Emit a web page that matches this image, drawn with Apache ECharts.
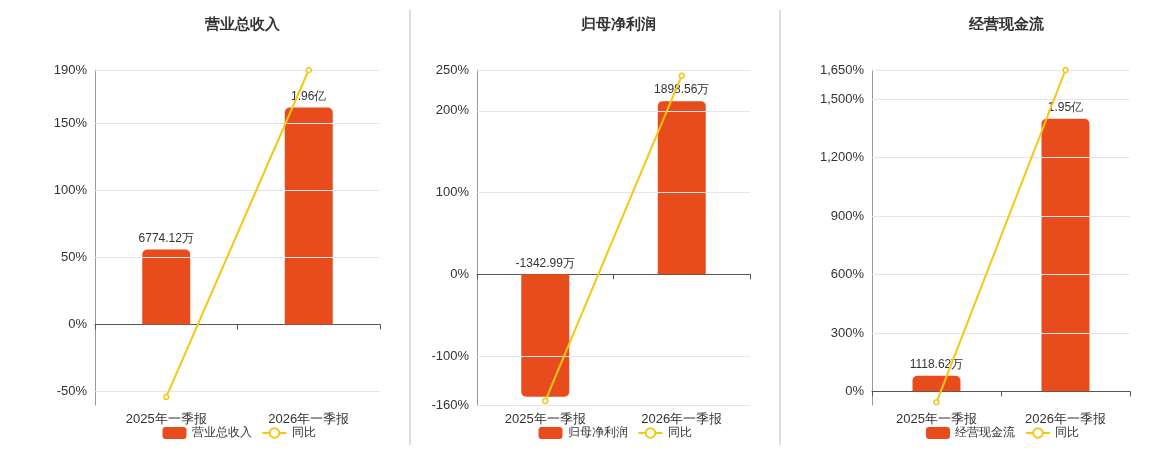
<!DOCTYPE html>
<html>
<head>
<meta charset="utf-8">
<script src="https://cdn.jsdelivr.net/npm/echarts@6/dist/echarts.min.js"></script>
</head>
<body style="margin:0">
<div id="main" style="width:1160px;height:450px;"></div>
<script>
var categories = ['2025年一季报', '2026年一季报'];
var titles = ['营业总收入', '归母净利润', '经营现金流'];
// 柱值单位：万元
var barValues = [[6774.12, 19600], [-1342.99, 1898.56], [1118.62, 19500]];
var barLabels = [['6774.12万', '1.96亿'], ['-1342.99万', '1898.56万'], ['1118.62万', '1.95亿']];
var yoyValues = [[-54, 190], [-155, 243], [-56, 1650]];
var tickLabels = [[-50, 0, 50, 100, 150, 190], [-160, -100, 0, 100, 200, 250], [0, 300, 600, 900, 1200, 1500, 1650]];
var pctRange = [[-60, 190, 10], [-160, 250, 10], [-70, 1650, 10]];
var barScale = [121, 8.96, 13.93]; // 万元 per 1%

var lefts = [95, 477, 872], rights = [780, 410, 30];
var grids = [], xAxes = [], yAxes = [], series = [], legends = [], titleArr = [];
var fmt = function (v) { return v.toLocaleString('en-US') + '%'; };

for (var i = 0; i < 3; i++) {
  grids.push({left: lefts[i], right: rights[i], top: 70, bottom: 45});
  xAxes.push({type: 'category', gridIndex: i, data: categories,
    axisLine: {onZero: true, onZeroAxisIndex: 2 * i, lineStyle: {color: '#555'}},
    axisTick: {show: true, lineStyle: {color: '#555'}}, axisLabel: {show: false}});
  xAxes.push({type: 'category', gridIndex: i, data: categories, position: 'bottom',
    axisLine: {show: false}, axisTick: {show: false},
    axisLabel: {color: '#333', fontSize: 13, margin: 8}});
  var r = pctRange[i], ticks = tickLabels[i];
  yAxes.push({type: 'value', gridIndex: i, min: r[0], max: r[1], interval: r[2],
    axisLine: {show: true, lineStyle: {color: '#999'}}, axisTick: {show: false},
    splitLine: {show: false},
    axisLabel: {color: '#333', fontSize: 13, showMinLabel: true, showMaxLabel: true,
      formatter: (function (t) { return function (v) { return t.indexOf(Math.round(v)) >= 0 ? fmt(Math.round(v)) : ''; }; })(ticks)}});
  yAxes.push({type: 'value', gridIndex: i, min: r[0] * barScale[i], max: r[1] * barScale[i],
    show: false, splitLine: {show: false}});
  var lines = ticks.filter(function (t) { return t !== 0; }).map(function (t) { return {yAxis: t}; });
  series.push({type: 'bar', name: titles[i], xAxisIndex: 2 * i, yAxisIndex: 2 * i + 1,
    data: barValues[i].map(function (v) {
      return {value: v, itemStyle: {borderRadius: v >= 0 ? [5, 5, 0, 0] : [0, 0, 5, 5]}};
    }),
    barWidth: 48, itemStyle: {color: '#e84c1c'},
    label: {show: true, position: 'top', color: '#333', fontSize: 12,
      formatter: (function (l) { return function (p) { return l[p.dataIndex]; }; })(barLabels[i])}});
  series.push({type: 'line', name: '同比', xAxisIndex: 2 * i, yAxisIndex: 2 * i, data: yoyValues[i],
    symbol: 'circle', symbolSize: 5, itemStyle: {color: '#fff', borderColor: '#f2c811', borderWidth: 1.5},
    lineStyle: {color: '#f2c811', width: 2}, z: 5,
    markLine: {silent: true, symbol: 'none', label: {show: false},
      lineStyle: {color: '#e3e6ee', type: 'solid', width: 1}, data: lines}});
  var cx = lefts[i] + (1160 - lefts[i] - rights[i]) / 2;
  titleArr.push({text: titles[i], left: cx, textAlign: 'center', top: 12,
    textStyle: {fontSize: 15, fontWeight: 'bold', color: '#333'}});
  legends.push({data: [titles[i], '同比'], left: cx - 80, bottom: 6, itemWidth: 24, itemHeight: 12,
    itemGap: 10, textStyle: {fontSize: 12, color: '#333'}});
}

var chart = echarts.init(document.getElementById('main'));
chart.setOption({
  animation: false,
  title: titleArr,
  legend: legends,
  grid: grids, xAxis: xAxes, yAxis: yAxes, series: series,
  graphic: [
    {type: 'line', shape: {x1: 410, y1: 10, x2: 410, y2: 445}, style: {stroke: '#bbb', lineWidth: 1}},
    {type: 'line', shape: {x1: 780, y1: 10, x2: 780, y2: 445}, style: {stroke: '#bbb', lineWidth: 1}}
  ]
});
</script>
</body>
</html>
